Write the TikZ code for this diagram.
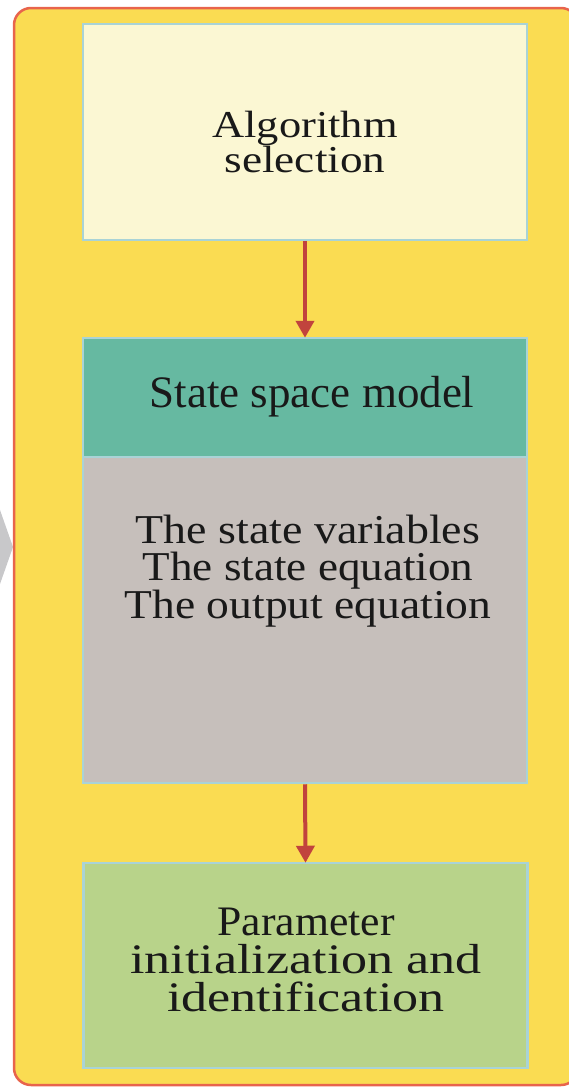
\documentclass[tikz,border=0pt]{standalone}
\usepackage{graphicx}
\usepackage{fontspec}
\setmainfont{Liberation Serif}
\usetikzlibrary{arrows.meta}
\usetikzlibrary{positioning}
\definecolor{panelyellow}{HTML}{FADC52}
\definecolor{panelred}{HTML}{E8644C}
\definecolor{boxblue}{HTML}{A9D3D6}
\definecolor{creamfill}{HTML}{FBF7D3}
\definecolor{tealfill}{HTML}{66B9A1}
\definecolor{greyfill}{HTML}{C6BFBB}
\definecolor{greenfill}{HTML}{B8D38A}
\definecolor{arrowred}{HTML}{C1433D}
\definecolor{chevrongrey}{HTML}{C8C8CA}
\newcommand{\wideline}[2]{\scalebox{#1}[1]{#2}}
\tikzset{
  stagebox/.style={draw=boxblue, line width=2.5pt, inner sep=0pt, minimum width=444pt},
  flowarrow/.style={draw=arrowred, line width=4pt, -{Triangle[width=18pt,length=17pt]}, shorten >=-1pt},
  stagetext/.style={align=center, text=black!90}
}
\begin{document}
\begin{tikzpicture}[x=1pt,y=-1pt]
				\useasboundingbox (0,0) rectangle (568,1087);
				\fill[chevrongrey] (-20,453) -- (13,547) -- (-20,641) -- cycle;
				\filldraw[fill=panelyellow, draw=panelred, line width=2.5pt, rounded corners=17pt] (14,8) rectangle (578,1085);
				\node[stagebox, fill=creamfill, minimum height=216pt] (algo) at (305,132) {};
				\node[stagebox, fill=tealfill, minimum height=119pt] (header) at (305,397.5) {};
				\node[stagebox, fill=greyfill, minimum height=326pt] (body) at (305,620) {};
				\node[stagebox, fill=greenfill, minimum height=205pt] (param) at (305.5,965.5) {};
				\draw[flowarrow] (algo.south) -- (header.north);
				\draw[flowarrow] (body.south) -- (param.north);
				\node[stagetext, font=\fontsize{38}{35}\selectfont] (algotxt) at (305,142) {\wideline{1.17}{Algorithm}\\\wideline{1.19}{selection}};
				\node[stagetext, font=\fontsize{45}{45}\selectfont] (headertxt) at (312,397) {State space model};
				\node[stagetext, font=\fontsize{41}{37.5}\selectfont] (bodytxt) at (308,571) {\wideline{1.12}{The state variables}\\\wideline{1.1}{The state equation}\\\wideline{1.11}{The output equation}};
				\node[stagetext, font=\fontsize{42}{38}\selectfont] (paramtxt) at (306,960) {\wideline{1.04}{Parameter}\\\wideline{1.24}{initialization and}\\\wideline{1.24}{identification}};
\end{tikzpicture}
\end{document}
